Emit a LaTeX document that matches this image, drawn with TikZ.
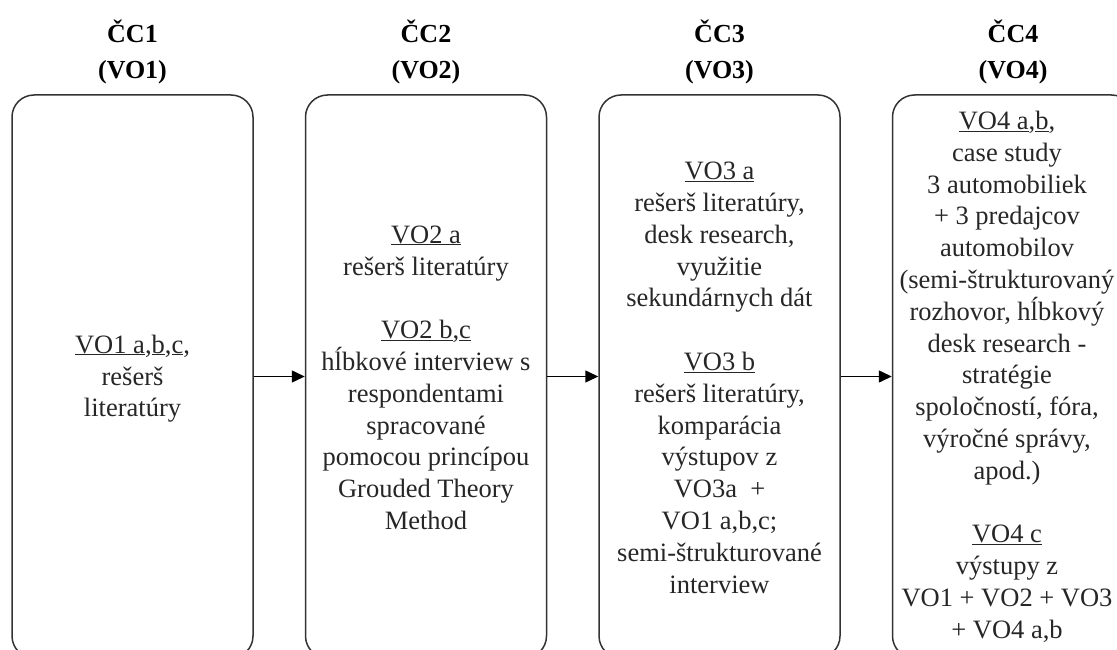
\documentclass[tikz,border=0pt]{standalone}
\usepackage{fontspec}
\setmainfont{Liberation Serif}
\usepackage{tikz}
\usetikzlibrary{arrows.meta, positioning}

% underline at a fixed depth
\newcommand{\ulvo}[1]{\underline{\smash{#1}}}

\begin{document}
\begin{tikzpicture}[line width=1.5pt,
    phase/.style={draw=black!80, rounded corners=22pt, minimum width=241pt,
        minimum height=563pt, inner sep=0pt},
    phasetext/.style={align=center, text=black!85, inner sep=0pt,
        font=\fontsize{26.5}{31.8}\selectfont},
    phasehead/.style={align=center, inner sep=0pt,
        font=\fontsize{26}{36}\selectfont\bfseries},
    flow/.style={-{Triangle[length=13pt, width=12pt]}, black},
    node distance=51pt]
    \useasboundingbox (0,0) rectangle (1117pt,-650pt);
    \clip (0,0) rectangle (1117pt,-650pt);

    % etapy
    \node[phase] (cc1) at (132.5pt,-376.5pt) {};
    \node[phase, right=of cc1] (cc2) {};
    \node[phase, right=of cc2] (cc3) {};
    \node[phase, right=of cc3] (cc4) {};

    % nadpisy
    \foreach \i in {1,...,4}
        \node[phasehead, above=9pt of cc\i] (head\i) {ČC\i\\(VO\i)};

    % texty v etapach
    \node[phasetext, yshift=-10pt] (txt1) at (cc1.center)
        {\ulvo{VO1 a},\ulvo{b},\ulvo{c},\\rešerš\\literatúry};
    \node[phasetext, yshift=-10pt] (txt2) at (cc2.center)
        {\ulvo{VO2 a}\\rešerš literatúry\\[31.8pt]
         \ulvo{VO2 b},\ulvo{c}\\hĺbkové interview s\\respondentami\\spracované\\
         pomocou princípou\\Grouded Theory\\Method};
    \node[phasetext, yshift=-10pt] (txt3) at (cc3.center)
        {\ulvo{VO3 a}\\rešerš literatúry,\\desk research,\\využitie\\sekundárnych dát\\[31.8pt]
         \ulvo{VO3 b}\\rešerš literatúry,\\komparácia\\výstupov z\\VO3a~ +\\
         VO1 a,b,c;\\semi-štrukturované\\interview};
    \node[phasetext, yshift=-8pt, xshift=-6pt] (txt4) at (cc4.center)
        {\ulvo{VO4 a},\ulvo{b},\\case study\\3 automobiliek\\+ 3 predajcov\\automobilov\\
         (semi-štrukturovaný\\rozhovor, hĺbkový\\desk research -\\stratégie\\
         spoločností, fóra,\\výročné správy,\\apod.)\\[31.8pt]
         \ulvo{VO4 c}\\výstupy z\\VO1 + VO2 + VO3\\+ VO4 a,b};

    % sipky
    \draw[flow] (cc1) -- (cc2);
    \draw[flow] (cc2) -- (cc3);
    \draw[flow] (cc3) -- (cc4);
\end{tikzpicture}
\end{document}
